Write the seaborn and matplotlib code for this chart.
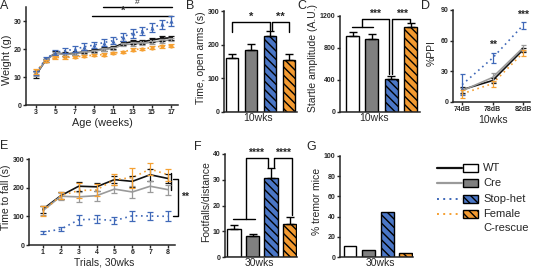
import numpy as np
import pandas as pd
import matplotlib
matplotlib.use("Agg")
import matplotlib.pyplot as plt
import seaborn as sns
from matplotlib.patches import Rectangle

# ---- values ----
groups = ["WT", "Cre", "Stop-het", "Female C-rescue"]

weeks = list(range(3, 18))
weight_wt = [10.8, 16.0, 18.6, 18.2, 18.5, 19.0, 19.5, 20.0, 20.5, 22.0, 22.6, 22.6, 23.2, 23.8, 24.0]
weight_cre = [11.0, 16.0, 18.5, 18.0, 18.3, 18.8, 19.2, 19.8, 20.2, 21.5, 21.8, 22.0, 22.4, 22.9, 23.3]
weight_stop = [11.5, 16.5, 18.8, 19.4, 19.9, 20.8, 21.4, 22.3, 23.0, 24.4, 25.6, 26.5, 27.6, 28.8, 30.0]
weight_fem = [12.0, 15.8, 17.0, 17.0, 17.2, 17.5, 17.8, 18.0, 18.5, 19.0, 19.8, 20.0, 20.5, 21.0, 21.2]
weight_err_wt = [1.2, 0.6, 0.6, 0.6, 0.6, 0.6, 0.6, 0.6, 0.6, 0.7, 0.7, 0.7, 0.7, 0.8, 0.8]
weight_err_cre = [0.8, 0.5, 0.5, 0.5, 0.5, 0.5, 0.5, 0.5, 0.5, 0.6, 0.6, 0.6, 0.6, 0.6, 0.6]
weight_err_stop = [0.8, 0.6, 0.8, 1.0, 1.0, 1.2, 1.2, 1.3, 1.3, 1.4, 1.5, 1.5, 1.6, 1.6, 1.7]
weight_err_fem = [0.8, 0.4, 0.4, 0.4, 0.4, 0.4, 0.4, 0.4, 0.4, 0.4, 0.4, 0.4, 0.4, 0.5, 0.5]

ppi_levels = ["74dB", "78dB", "82dB"]
ppi_wt = [12, 21, 51]
ppi_cre = [11, 24, 53]
ppi_stop = [17, 43, 75]
ppi_fem = [8, 18, 48]
ppi_err_wt = [3, 2, 2]
ppi_err_cre = [3, 4, 3]
ppi_err_stop = [10, 5, 3.5]
ppi_err_fem = [4, 3, 3]

trials = list(range(1, 9))
fall_wt = [125, 172, 205, 203, 228, 222, 245, 232]
fall_cre = [120, 170, 168, 172, 195, 185, 205, 193]
fall_stop = [45, 55, 88, 90, 85, 102, 101, 100]
fall_fem = [118, 172, 190, 192, 228, 235, 265, 245]
fall_err_wt = [12, 13, 15, 13, 13, 18, 20, 17]
fall_err_cre = [15, 12, 18, 17, 15, 20, 20, 18]
fall_err_stop = [5, 7, 18, 14, 11, 18, 14, 18]
fall_err_fem = [17, 12, 25, 22, 18, 35, 20, 20]

open_arms = [160, 185, 227, 155]
open_arms_err = [13, 17, 13, 16]
startle = [950, 910, 415, 1065]
startle_err = [50, 70, 40, 50]
footfalls = [11.0, 8.2, 30.5, 13.0]
footfalls_err = [1.6, 0.7, 4.2, 2.5]
tremor = [11, 7, 45, 3.5]

line_col = {"WT": "#111111", "Cre": "#9a9a9a", "Stop-het": "#3f68b8", "Female C-rescue": "#f5a032"}
bar_col = {"WT": "#ffffff", "Cre": "#808080", "Stop-het": "#4a76c6", "Female C-rescue": "#f39a30"}
dash = {"WT": "", "Cre": "", "Stop-het": (1, 2.2), "Female C-rescue": (1, 2.2)}
HATCH = "\\\\\\\\"

W, H = 538, 268
sns.set_style("ticks")
plt.rcParams["font.family"] = ["Liberation Sans", "DejaVu Sans"]
plt.rcParams["hatch.linewidth"] = 1.0
plt.rcParams["axes.linewidth"] = 1.1

fig = plt.figure(figsize=(W / 100, H / 100), dpi=100)


def add_ax(l, t, r, b):
    return fig.add_axes([l / W, 1 - b / H, (r - l) / W, (b - t) / H])


def labels(ax, box, ylab, ypos, xlab, xpos, fs=7.5):
    l, t, r, b = box
    ax.set_ylabel(ylab, fontsize=fs, va="center", ha="center")
    ax.yaxis.set_label_coords((ypos[0] - l) / (r - l), (b - ypos[1]) / (b - t))
    ax.set_xlabel(xlab, fontsize=fs, va="center", ha="center")
    ax.xaxis.set_label_coords((xpos[0] - l) / (r - l), (b - xpos[1]) / (b - t))


def finish(ax, xticks=True):
    sns.despine(ax=ax)
    ax.tick_params(axis="y", labelsize=5, width=1, length=2.5, pad=0.8)
    ax.tick_params(axis="x", labelsize=5, width=1, length=2.2, pad=0.6)
    if not xticks:
        ax.tick_params(axis="x", length=0, labelbottom=False)
    plt.setp(ax.get_xticklabels() + ax.get_yticklabels(), fontweight="bold")


def long(xs, series):
    rows = []
    for g, ys in zip(groups, series):
        for x, y in zip(xs, ys):
            rows.append((g, x, y))
    return pd.DataFrame(rows, columns=["group", "x", "y"])


def lines(ax, xs, series, errs, lw=1.2, markers=None, ms=3, cap=2):
    df = long(xs, series)
    kw = dict(markers=markers, markersize=ms, markeredgewidth=0) if markers else {}
    sns.lineplot(data=df, x="x", y="y", hue="group", style="group", palette=line_col,
                 dashes=dash, linewidth=lw, legend=False, ax=ax, errorbar=None, **kw)
    for g, ys, e in zip(groups, series, errs):
        ax.errorbar(xs, ys, yerr=e, fmt="none", ecolor=line_col[g], elinewidth=0.9,
                    capsize=cap, capthick=0.9, zorder=3)


def bars(ax, vals, errs, width):
    df = pd.DataFrame({"group": groups, "y": vals})
    sns.barplot(data=df, x="group", y="y", hue="group", palette=bar_col, legend=False,
                width=width, edgecolor="black", linewidth=1.0, saturation=1,
                errorbar=None, ax=ax)
    for cont, g in zip(ax.containers, groups):
        for p in cont:
            if g in ("Stop-het", "Female C-rescue"):
                p.set_hatch(HATCH)
    if errs is not None:
        ax.errorbar(range(len(vals)), vals, yerr=[np.zeros(len(vals)), errs], fmt="none",
                    ecolor="black", elinewidth=1.0, capsize=3, capthick=1.0, zorder=3)


def br(ax, xs, ys):
    ax.plot(xs, ys, color="black", lw=1.0, clip_on=False)


# ---- A: body weight ----
boxA = (26, 7, 178, 105)
axA = add_ax(*boxA)
lines(axA, weeks, [weight_wt, weight_cre, weight_stop, weight_fem],
      [weight_err_wt, weight_err_cre, weight_err_stop, weight_err_fem],
      markers={"WT": "s", "Cre": "s", "Stop-het": "^", "Female C-rescue": "o"}, ms=3)
axA.set_xlim(1.96, 17.7)
axA.set_ylim(0, 35)
axA.set_xticks(range(3, 18, 2))
axA.set_yticks([0, 10, 20, 30])
br(axA, [9.9, 17.1], [35, 35])
br(axA, [8.8, 17.1], [31.9, 31.9])
axA.text(13.5, 35.3, "#", fontsize=6, ha="center", va="bottom", clip_on=False)
axA.text(12.0, 32.0, "*", fontsize=8, ha="center", va="bottom", fontweight="bold")
labels(axA, boxA, "Weight (g)", (7, 60), "Age (weeks)", (102, 122.5), fs=7.8)
finish(axA)

# ---- B: open arms ----
boxB = (224, 11, 297, 112)
axB = add_ax(*boxB)
bars(axB, open_arms, open_arms_err, 0.64)
axB.set_xlim(-0.43, 3.45)
axB.set_ylim(0, 300)
axB.set_yticks([0, 100, 200, 300])
br(axB, [0, 0, 2, 2], [238, 267, 267, 245])
br(axB, [2.1, 2.1, 3, 3], [245, 267, 267, 238])
axB.text(1.0, 268, "*", fontsize=8, ha="center", va="bottom", fontweight="bold")
axB.text(2.55, 268, "**", fontsize=8, ha="center", va="bottom", fontweight="bold")
labels(axB, boxB, "Time, open arms (s)", (201, 58), "10wks", (258, 118))
finish(axB, xticks=False)

# ---- C: startle ----
boxC = (340, 16, 420, 112)
axC = add_ax(*boxC)
bars(axC, startle, startle_err, 0.67)
axC.set_xlim(-0.65, 3.49)
axC.set_ylim(0, 1200)
axC.set_yticks([0, 400, 800, 1200])
br(axC, [-0.05, 1.05], [1059, 1059])
br(axC, [0.5, 0.5, 1.9, 1.9], [1059, 1159, 1159, 470])
br(axC, [2.06, 2.06, 2.98, 2.98], [470, 1159, 1159, 1115])
axC.text(1.15, 1165, "***", fontsize=7.5, ha="center", va="bottom", fontweight="bold")
axC.text(2.55, 1165, "***", fontsize=7.5, ha="center", va="bottom", fontweight="bold")
labels(axC, boxC, "Startle amplitude (A.U.)", (313.5, 58), "10wks", (374, 118))
finish(axC, xticks=False)

# ---- D: PPI ----
boxD = (453, 10, 530, 102)
axD = add_ax(*boxD)
lines(axD, [0, 1, 2], [ppi_wt, ppi_cre, ppi_stop, ppi_fem],
      [ppi_err_wt, ppi_err_cre, ppi_err_stop, ppi_err_fem], lw=1.2, cap=1.8)
axD.set_xlim(-0.3, 2.23)
axD.set_ylim(0, 90)
axD.set_xticks([0, 1, 2])
axD.set_xticklabels(ppi_levels)
axD.set_yticks([0, 30, 60, 90])
axD.text(1, 56, "**", fontsize=7.5, ha="center", va="center", fontweight="bold")
axD.text(2, 85, "***", fontsize=7.5, ha="center", va="center", fontweight="bold")
labels(axD, boxD, "%PPI", (432, 53), "10wks", (493, 120))
finish(axD)

# ---- E: rotarod ----
boxE = (29, 159, 175, 245)
axE = add_ax(*boxE)
lines(axE, trials, [fall_wt, fall_cre, fall_stop, fall_fem],
      [fall_err_wt, fall_err_cre, fall_err_stop, fall_err_fem], lw=1.2, cap=2)
axE.set_xlim(0.22, 8.39)
axE.set_ylim(0, 300)
axE.set_xticks(trials)
axE.set_yticks([0, 100, 200, 300])
br(axE, [8.17, 8.17], [250, 192])
br(axE, [8.3, 8.56, 8.56, 8.3], [229, 229, 102, 102])
axE.text(8.95, 167, "**", fontsize=7.5, ha="center", va="center", fontweight="bold", clip_on=False)
labels(axE, boxE, "Time to fall (s)", (6.5, 197), "Trials, 30wks", (104, 262.5))
finish(axE)

# ---- F: footfalls ----
boxF = (225, 154, 297, 257)
axF = add_ax(*boxF)
bars(axF, footfalls, footfalls_err, 0.73)
axF.set_xlim(-0.49, 3.4)
axF.set_ylim(0, 40)
axF.set_yticks([0, 10, 20, 30, 40])
br(axF, [-0.05, 1.15], [14.8, 14.8])
br(axF, [0.65, 0.65, 1.86, 1.86], [14.8, 38.5, 38.5, 34.8])
br(axF, [2.16, 2.16, 3.12, 3.12], [34.8, 38.5, 38.5, 16.5])
axF.text(1.2, 38.6, "****", fontsize=7.5, ha="center", va="bottom", fontweight="bold")
axF.text(2.66, 38.6, "****", fontsize=7.5, ha="center", va="bottom", fontweight="bold")
labels(axF, boxF, "Footfalls/distance", (206, 202), "30wks", (259, 263))
finish(axF, xticks=False)

# ---- G: tremor ----
boxG = (340, 156, 413, 257)
axG = add_ax(*boxG)
bars(axG, tremor, None, 0.7)
axG.set_xlim(-0.54, 3.4)
axG.set_ylim(0, 100)
axG.set_yticks([0, 20, 40, 60, 80, 100])
labels(axG, boxG, "% tremor mice", (317, 201), "30wks", (380, 263))
finish(axG, xticks=False)

# ---- panel letters and legend (pixel overlay) ----
ov = fig.add_axes([0, 0, 1, 1], zorder=10)
ov.set_xlim(0, W)
ov.set_ylim(H, 0)
ov.axis("off")
ov.patch.set_alpha(0)
for letter, (x, y) in zip("ABCDEFG", [(4, 6), (190, 6), (302, 6), (425, 6),
                                      (4, 146), (198, 147), (311, 147)]):
    ov.text(x, y, letter, fontsize=9, ha="center", va="center")

rows = [168, 183, 199, 214]
for g, y in zip(groups, rows):
    ov.plot([437, 462], [y, y], color=line_col[g], lw=1.6 if g in ("WT", "Cre") else 1.4,
            dashes=dash[g] if dash[g] else (None, None))
    ov.add_patch(Rectangle((463, y - 4), 15, 8, facecolor=bar_col[g], edgecolor="black",
                           lw=1.0, hatch=HATCH if g in ("Stop-het", "Female C-rescue") else None))
for lab, y in zip(["WT", "Cre", "Stop-het", "Female"], rows):
    ov.text(483, y, lab, fontsize=8, ha="left", va="center")
ov.text(483, 228, "C-rescue", fontsize=8, ha="left", va="center")

fig.savefig("out.png", dpi=100)
